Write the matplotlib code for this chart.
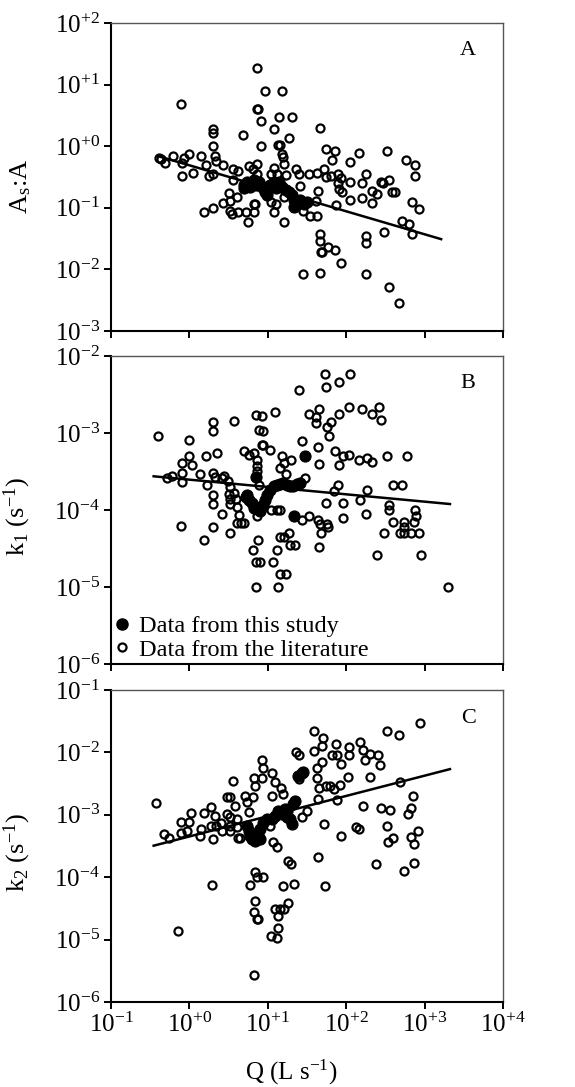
import matplotlib
matplotlib.use('Agg')
import matplotlib.pyplot as plt
from matplotlib.lines import Line2D

plt.rcParams['font.family'] = ['Liberation Serif', 'DejaVu Serif']
plt.rcParams['mathtext.fontset'] = 'custom'
plt.rcParams['mathtext.rm'] = 'Liberation Serif'
plt.rcParams['mathtext.it'] = 'Liberation Serif:italic'

# ---- data ----
# panel A: As:A
a_lit_q = [7.2, 0.77, 9.3, 15.2, 7.2, 7.6, 8.1, 13.8, 20.6, 11.9, 18.6, 4.8, 45.7, 1.99, 1.99, 1.99, 8.1, 13.5,
           14.4, 15.2, 15.7, 16.0, 54.6, 71.6, 66, 145, 331, 110, 575, 759, 759, 0.41, 0.44, 0.49, 0.61, 0.81,
           0.85, 1.0, 0.81, 1.1, 1.42, 1.63, 1.77, 1.99, 2.1, 2.2, 2.7, 3.6, 4.2, 3.6, 5.7, 6.4, 7.3, 7.3, 11.9,
           13.1, 17.1, 22.8, 24.8, 26, 33.7, 42, 52.7, 55, 63, 78, 85, 78, 80, 87, 75, 110, 110, 160, 176, 160,
           215, 215, 250, 275, 290, 350, 386, 420, 693, 845, 515, 630, 693, 302, 176, 176, 176, 350, 470, 45.7,
           45.7, 48, 49, 59, 72, 86, 45.7, 27.7, 43, 41, 34, 42, 27.7, 16, 11.9, 12.8, 11, 16, 11, 5.6, 6.6,
           6.6, 5.3, 4.2, 3.5, 3.3, 1.99, 1.55, 2.7, 3.3, 3.2, 4.0, 6.8]
a_lit_v = [18.6, 4.8, 7.9, 7.9, 4.0, 4.0, 2.6, 3.0, 3.0, 1.9, 1.36, 1.53, 1.98, 1.93, 1.64, 1.0, 1.0, 1.06,
           1.06, 0.74, 0.67, 0.52, 0.89, 0.84, 0.59, 0.79, 0.84, 0.56, 0.59, 0.49, 0.33, 0.65, 0.63, 0.54, 0.70,
           0.54, 0.65, 0.74, 0.33, 0.37, 0.70, 0.49, 0.33, 0.35, 0.70, 0.58, 0.49, 0.43, 0.39, 0.28, 0.48, 0.43,
           0.52, 0.36, 0.44, 0.36, 0.34, 0.43, 0.35, 0.23, 0.35, 0.37, 0.42, 0.32, 0.33, 0.35, 0.30, 0.25, 0.20,
           0.18, 0.113, 0.26, 0.133, 0.25, 0.35, 0.145, 0.186, 0.118, 0.165, 0.26, 0.25, 0.28, 0.18, 0.18, 0.125,
           0.095, 0.061, 0.054, 0.037, 0.040, 0.035, 0.027, 0.0084, 0.0052, 0.0028, 0.037, 0.029, 0.019, 0.019,
           0.023, 0.021, 0.0125, 0.0089, 0.0084, 0.19, 0.129, 0.074, 0.074, 0.089, 0.059, 0.084, 0.115, 0.125,
           0.151, 0.35, 0.059, 0.087, 0.117, 0.085, 0.085, 0.080, 0.088, 0.10, 0.084, 0.118, 0.128, 0.175, 0.15,
           0.115]
a_own_q = [4.9, 5.4, 6.0, 6.6, 7.0, 7.7, 8.5, 9.3, 9.8, 10.8, 11.9, 12.6, 13.8, 15.2, 16.8, 18.5, 20.5, 21.5,
           21.5, 23.6, 26, 28.8, 31.6, 4.9]
a_own_v = [0.233, 0.264, 0.22, 0.28, 0.233, 0.264, 0.22, 0.18, 0.16, 0.233, 0.264, 0.206, 0.264, 0.22, 0.193,
           0.18, 0.16, 0.133, 0.104, 0.125, 0.133, 0.117, 0.125, 0.206]
a_fit_q = [0.4, 1620]
a_fit_v = [0.69, 0.031]

# panel B: k1
b_lit_q = [0.40, 0.52, 0.60, 0.81, 0.81, 0.81, 1.0, 1.08, 1.0, 0.77, 1.52, 1.63, 1.38, 1.68, 2.0, 2.0, 2.25,
           2.0, 2.1, 2.0, 2.0, 2.0, 2.6, 3.3, 2.6, 2.8, 3.1, 3.3, 3.7, 3.2, 3.25, 3.3, 3.7, 3.9, 4.0, 4.3, 4.0,
           4.5, 4.9, 4.9, 5.7, 6.6, 7.0, 8.5, 7.7, 8.8, 8.5, 8.8, 10.8, 12.2, 7.2, 7.2, 7.2, 7.8, 7.3, 6.4, 7.4,
           7.0, 7.9, 7.1, 11.7, 13.1, 13.5, 14.4, 16.8, 14.2, 16.3, 18.5, 19, 22.5, 11, 13.1, 14.2, 15.0, 16, 20,
           14.2, 17.2, 24.8, 27.5, 30, 27.5, 33, 33, 41, 45, 41, 43, 45, 44, 46, 48, 56, 58, 45, 53, 55, 56, 61,
           64, 55, 80, 80, 72, 90, 80, 78, 70, 90, 90, 112, 108, 108, 160, 215, 260, 280, 145, 185, 215, 185,
           150, 180, 331, 600, 390, 510, 355, 355, 400, 300, 480, 550, 550, 660, 840, 550, 720, 780, 750, 250,
           910, 2000]
b_lit_v = [9.2e-4, 2.6e-4, 2.8e-4, 4.1e-4, 3.0e-4, 2.3e-4, 5.0e-4, 3.8e-4, 8.2e-4, 6.3e-5, 4.1e-5, 5.1e-4,
           2.96e-4, 2.1e-4, 1.38e-3, 1.05e-3, 5.6e-4, 3.0e-4, 2.7e-4, 1.58e-4, 1.2e-4, 6.0e-5, 8.9e-5, 5.0e-5,
           2.6e-4, 2.8e-4, 2.4e-4, 2.0e-4, 1.45e-3, 1.6e-4, 1.4e-4, 1.2e-4, 1.66e-4, 1.4e-4, 1.1e-4, 8.7e-5,
           6.9e-5, 6.9e-5, 6.9e-5, 5.9e-4, 5.2e-4, 5.5e-4, 1.73e-3, 1.65e-3, 1.1e-3, 1.05e-3, 7.1e-4, 7.1e-4,
           6.1e-4, 1.9e-3, 4.5e-4, 3.7e-4, 3.2e-4, 2.1e-4, 8.3e-5, 3.05e-5, 4.1e-5, 2.1e-5, 2.1e-5, 1.0e-5,
           2.1e-5, 3.05e-5, 1.0e-5, 1.5e-5, 1.5e-5, 4.5e-5, 4.5e-5, 5.0e-5, 3.5e-5, 3.5e-5, 1.0e-4, 1.0e-4,
           1.0e-4, 5.1e-4, 4.1e-4, 4.5e-4, 3.5e-4, 2.95e-4, 3.66e-3, 7.8e-4, 2.6e-4, 7.5e-5, 8.3e-5, 1.78e-3,
           1.6e-3, 2.05e-3, 1.35e-3, 6.6e-4, 4.0e-4, 7.5e-5, 6.6e-5, 5.0e-5, 6.6e-5, 6.0e-5, 3.3e-5, 5.9e-3,
           4.0e-3, 1.2e-3, 9.2e-4, 1.4e-3, 1.23e-4, 4.6e-3, 1.76e-3, 5.8e-4, 5.0e-4, 3.8e-4, 2.1e-4, 1.75e-4,
           1.23e-4, 7.9e-5, 5.9e-3, 2.2e-3, 5.2e-4, 2.07e-3, 1.78e-3, 2.2e-3, 1.5e-3, 4.5e-4, 4.7e-4, 4.2e-4,
           1.84e-4, 1.36e-4, 8.9e-5, 5.0e-4, 5.0e-4, 2.1e-4, 2.1e-4, 1.15e-4, 1.0e-4, 7.1e-5, 5.1e-5, 5.0e-5,
           6.0e-5, 5.0e-5, 5.0e-5, 5.0e-5, 7.1e-5, 7.1e-5, 8.5e-5, 1.0e-4, 2.6e-5, 2.6e-5, 1.0e-5]
b_own_q = [7.0, 30, 21.5, 5.2, 5.7, 6.3, 7.0, 7.7, 8.5, 9.3, 9.8, 10.8, 11.9, 13.1, 14.4, 15.8, 17.5, 19.2,
           21.2, 23.3, 25.5, 6.6, 8.0, 8.8, 5.5]
b_own_v = [2.7e-4, 5.1e-4, 8.3e-5, 1.5e-4, 1.36e-4, 1.23e-4, 1.11e-4, 1.0e-4, 1.11e-4, 1.36e-4, 1.58e-4,
           1.84e-4, 2.04e-4, 2.1e-4, 2.2e-4, 2.24e-4, 2.1e-4, 2.07e-4, 2.07e-4, 2.2e-4, 2.24e-4, 1.06e-4,
           9.6e-5, 1.17e-4, 1.58e-4]
b_fit_q = [0.35, 2100]
b_fit_v = [2.75e-4, 1.2e-4]

# panel C: k2
c_lit_q = [0.37, 0.72, 0.47, 0.55, 0.77, 0.77, 1.0, 0.93, 1.06, 1.35, 1.52, 1.42, 1.9, 1.9, 2.0, 1.94, 2.1,
           2.2, 2.5, 2.6, 3.0, 3.25, 3.0, 3.3, 3.3, 3.3, 3.56, 3.8, 4.0, 4.0, 4.2, 4.4, 5.1, 5.4, 5.7, 6.4, 6.7,
           6.9, 8.4, 8.8, 8.4, 11.2, 12.4, 14.6, 15.5, 11.2, 9.9, 10.7, 11.8, 13, 18.3, 20, 21.6, 6.0, 6.9, 7.2,
           8.6, 6.9, 6.6, 7.2, 7.6, 6.7, 11, 13, 13.4, 13.6, 12.4, 14.3, 16, 15.5, 18.3, 22.9, 25, 25, 27, 32,
           39, 39, 42, 42, 45, 44, 43, 51, 49, 49, 55, 62, 66, 77, 70, 75, 77, 85, 83, 52, 53, 85, 106, 108,
           108, 135, 145, 148, 165, 175, 165, 200, 200, 255, 270, 236, 280, 330, 360, 340, 400, 330, 465, 880,
           490, 540, 610, 660, 700, 660, 720, 720, 830]
c_lit_v = [1.52e-3, 1.38e-5, 4.9e-4, 4.2e-4, 7.7e-4, 5.1e-4, 7.7e-4, 5.5e-4, 1.05e-3, 4.6e-4, 1.05e-3,
           5.9e-4, 1.34e-3, 6.7e-4, 4.1e-4, 7.5e-5, 9.6e-4, 6.7e-4, 7.5e-4, 5.5e-4, 1.94e-3, 1.94e-3, 1.02e-3,
           9.1e-4, 6.7e-4, 5.5e-4, 3.5e-3, 1.4e-3, 8.5e-4, 6.3e-4, 4.3e-4, 4.3e-4, 2.0e-3, 1.6e-3, 1.09e-3,
           1.9e-3, 3.9e-3, 2.9e-3, 7.6e-3, 5.7e-3, 3.9e-3, 4.6e-3, 3.4e-3, 2.7e-3, 2.15e-3, 2.0e-3, 8.5e-4,
           6.7e-4, 3.6e-4, 3.0e-4, 1.8e-4, 1.6e-4, 7.9e-5, 7.5e-5, 1.2e-4, 1.0e-4, 1.0e-4, 4.1e-5, 2.8e-5,
           2.1e-5, 2.1e-5, 2.7e-6, 1.15e-5, 1.05e-5, 1.55e-5, 2.4e-5, 3.1e-5, 3.1e-5, 3.1e-5, 7.1e-5, 3.8e-5,
           1.0e-2, 9.0e-3, 3.7e-3, 9.1e-4, 1.16e-3, 2.2e-2, 1.07e-2, 5.7e-3, 3.9e-3, 2.7e-3, 1.78e-3, 2.1e-4,
           1.7e-2, 1.25e-2, 6.9e-3, 2.9e-3, 2.9e-3, 9.0e-3, 9.0e-3, 2.6e-3, 1.36e-2, 1.7e-3, 6.5e-3, 3.0e-3,
           7.2e-4, 7.1e-5, 4.5e-4, 4.0e-3, 1.2e-2, 9.0e-3, 6.3e-4, 5.9e-4, 1.45e-2, 1.1e-2, 7.6e-3, 1.4e-3,
           9.5e-3, 4.0e-3, 9.0e-3, 6.2e-3, 1.6e-4, 1.3e-3, 6.7e-4, 1.2e-3, 3.7e-4, 4.2e-4, 2.2e-2, 1.9e-2,
           3.0e-2, 3.4e-3, 1.25e-4, 1.02e-3, 1.3e-3, 2.0e-3, 4.4e-4, 3.4e-4, 1.7e-4, 5.6e-4]
c_own_q = [5.4, 5.7, 6.0, 6.3, 6.6, 6.9, 7.6, 8.0, 8.8, 9.7, 11.2, 12.4, 13.6, 15, 16.5, 17.7, 19.2, 20.1,
           21.2, 22.2, 24.5, 27, 28.3, 17.4, 7.2, 8.0, 6.6, 7.6]
c_own_v = [6.7e-4, 5.5e-4, 4.6e-4, 4.1e-4, 4.6e-4, 3.8e-4, 5.2e-4, 5.9e-4, 7.5e-4, 8.5e-4, 8.5e-4, 9.6e-4,
           1.16e-3, 1.02e-3, 1.23e-3, 1.16e-3, 8.5e-4, 7.1e-4, 1.48e-3, 1.68e-3, 4.2e-3, 4.6e-3, 4.9e-3,
           9.3e-4, 4.6e-4, 4.1e-4, 4.1e-4, 4.1e-4]
c_fit_q = [0.35, 2100]
c_fit_v = [3.2e-4, 5.4e-3]

x_exps = [-1, 0, 1, 2, 3, 4]


def dec_label(e):
    sign = '+' if e >= 0 else '-'
    return r'$\mathregular{10^{%s%d}}$' % (sign, abs(e))


fig = plt.figure(figsize=(5.75, 10.87), dpi=100)
ax_a = fig.add_axes([0.193, 0.6955, 0.682, 0.2833])
ax_b = fig.add_axes([0.193, 0.3890, 0.682, 0.2834])
ax_c = fig.add_axes([0.193, 0.0782, 0.682, 0.2870])

panels = [
    (ax_a, a_lit_q, a_lit_v, a_own_q, a_own_v, a_fit_q, a_fit_v, (-3, 2), 'A',
     r'A$_\mathregular{s}$:A', 0.47),
    (ax_b, b_lit_q, b_lit_v, b_own_q, b_own_v, b_fit_q, b_fit_v, (-6, -2), 'B',
     r'k$_\mathregular{1}$ (s$^\mathregular{-1}$)', 0.48),
    (ax_c, c_lit_q, c_lit_v, c_own_q, c_own_v, c_fit_q, c_fit_v, (-6, -1), 'C',
     r'k$_\mathregular{2}$ (s$^\mathregular{-1}$)', 0.48),
]

for ax, lq, lv, oq, ov, fq, fv, (ylo, yhi), tag, ylab, ylab_y in panels:
    ax.plot(lq, lv, 'o', ms=5.8, mfc='none', mec='black', mew=1.6, zorder=2)
    ax.plot(fq, fv, '-', color='black', lw=1.8, zorder=3)
    ax.plot(oq, ov, 'o', ms=8, mfc='black', mec='black', mew=0.8, zorder=4)
    ax.set_xscale('log')
    ax.set_yscale('log')
    ax.set_xlim(0.1, 1e4)
    ax.set_ylim(10.0 ** ylo, 10.0 ** yhi)
    ax.set_xticks([10.0 ** e for e in x_exps])
    ax.set_yticks([10.0 ** e for e in range(ylo, yhi + 1)])
    ax.set_yticklabels([dec_label(e) for e in range(ylo, yhi + 1)])
    ax.minorticks_off()
    ax.tick_params(direction='out', length=5, width=1.4, labelsize=18, pad=3)
    for side in ['left', 'bottom']:
        ax.spines[side].set_linewidth(1.5)
    for side in ['top', 'right']:
        ax.spines[side].set_linewidth(1.0)
        ax.spines[side].set_color('#555555')
    ax.text(0.93, 0.91, tag, transform=ax.transAxes, fontsize=16, ha='right', va='center')
    ax.set_ylabel(ylab, fontsize=19)
    ax.yaxis.set_label_coords(-0.199, ylab_y)

for ax in [ax_a, ax_b]:
    ax.set_xticklabels([])
ax_c.set_xticklabels([dec_label(e) for e in x_exps])
ax_c.set_xlabel(r'Q (L s$^\mathregular{-1}$)', fontsize=18)
ax_c.xaxis.set_label_coords(0.46, -0.178)

handles = [
    Line2D([], [], ls='none', marker='o', ms=8, mfc='black', mec='black'),
    Line2D([], [], ls='none', marker='o', ms=5.8, mfc='none', mec='black', mew=1.6),
]
ax_b.legend(handles, ['Data from this study', 'Data from the literature'], loc='lower left',
            frameon=False, fontsize=17.5, handlelength=0.6, handletextpad=0.4, labelspacing=0.05,
            borderaxespad=0.05, borderpad=0.1)

fig.savefig('out.png', dpi=100)
